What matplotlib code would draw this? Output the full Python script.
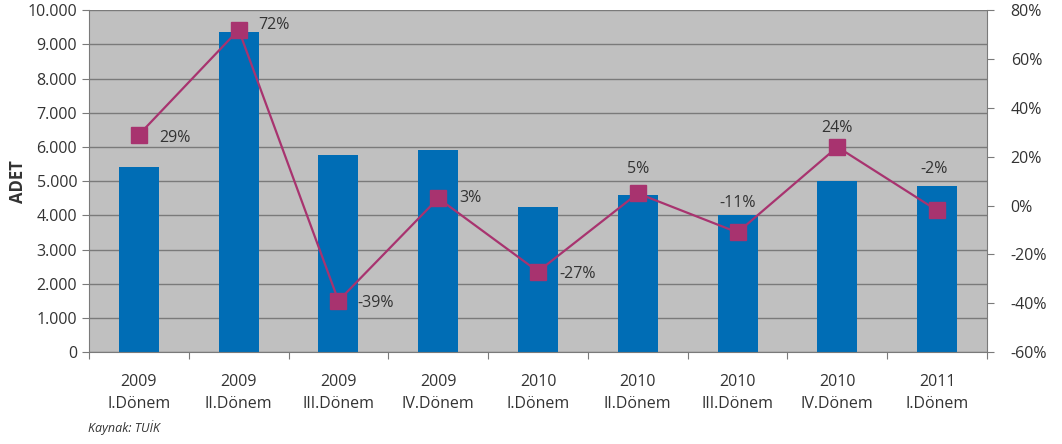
import matplotlib
matplotlib.use("Agg")
import matplotlib.pyplot as plt
import numpy as np
from matplotlib.ticker import FuncFormatter, FixedLocator

plt.rcParams["font.family"] = ["Open Sans", "DejaVu Sans"]

# data
categories = ["2009\nI.Dönem", "2009\nII.Dönem", "2009\nIII.Dönem", "2009\nIV.Dönem",
              "2010\nI.Dönem", "2010\nII.Dönem", "2010\nIII.Dönem", "2010\nIV.Dönem",
              "2011\nI.Dönem"]
adet = [5400, 9350, 5760, 5900, 4240, 4590, 4010, 5000, 4850]
change_pct = [29, 72, -39, 3, -27, 5, -11, 24, -2]

# label placement relative to each marker, in pixels (dx, dy; dy up)
label_offsets = [(20, -3), (20, 5), (19, -2), (21, 0), (21, -2),
                 (0, 24), (0, 29), (0, 19), (-3, 41)]

BAR_COLOR = "#006db5"
LINE_COLOR = "#a8336f"
BG = "#c0c0c0"
GRID = "#7a7a7a"
TEXT = "#333333"
PX = 72 / 100  # points per pixel at dpi 100

fig = plt.figure(figsize=(10.62, 4.44), dpi=100)
ax = fig.add_axes([0.0838, 0.207, 0.8456, 0.770])
ax.set_facecolor(BG)

x = np.arange(len(categories))
ax.bar(x, adet, width=0.4, color=BAR_COLOR, zorder=2)
ax.set_xlim(-0.5, len(categories) - 0.5)
ax.set_ylim(0, 10000)
ax.set_yticks(np.arange(0, 10001, 1000))
ax.yaxis.set_major_formatter(FuncFormatter(lambda v, p: f"{int(v):,}".replace(",", ".")))
ax.grid(axis="y", color=GRID, linewidth=1.0, zorder=1)
ax.set_axisbelow(True)

# category boundaries as ticks, labels at centres
ax.xaxis.set_major_locator(FixedLocator(np.arange(-0.5, len(categories), 1.0)))
ax.xaxis.set_major_formatter(FuncFormatter(lambda v, p: ""))
ax.xaxis.set_minor_locator(FixedLocator(x))
ax.set_xticklabels(categories, minor=True)
ax.tick_params(axis="x", which="minor", length=0, pad=16, labelsize=11.5, labelcolor=TEXT)
ax.tick_params(axis="x", which="major", length=5, color=GRID, direction="out")
ax.tick_params(axis="y", length=5, color=GRID, labelsize=11.5, labelcolor=TEXT)
for ln in ax.get_xticklabels(minor=True):
    ln.set_linespacing(1.5)

ax.set_ylabel("ADET", fontsize=12, fontweight="bold", color=TEXT, labelpad=0)

for s in ["top", "right"]:
    ax.spines[s].set_visible(False)
for s in ["left", "bottom"]:
    ax.spines[s].set_color(GRID)

ax2 = ax.twinx()
ax2.plot(x, change_pct, color=LINE_COLOR, linewidth=1.6, marker="s", markersize=11,
         markerfacecolor=LINE_COLOR, markeredgecolor=LINE_COLOR, zorder=3)
ax2.set_ylim(-60, 80)
ax2.set_yticks(np.arange(-60, 81, 20))
ax2.yaxis.set_major_formatter(FuncFormatter(lambda v, p: f"{int(v)}%"))
ax2.tick_params(axis="y", length=5, color=GRID, labelsize=11.5, labelcolor=TEXT, pad=12)
for s in ["top", "left", "bottom"]:
    ax2.spines[s].set_visible(False)
ax2.spines["right"].set_color(GRID)

for xi, v, (dx, dy) in zip(x, change_pct, label_offsets):
    ha = "left" if dx > 5 else "center"
    ax2.annotate(f"{v}%", (xi, v), xytext=(dx * PX, dy * PX), textcoords="offset points",
                 ha=ha, va="center", fontsize=11.5, color=TEXT)

fig.text(0.083, 0.026, "Kaynak: TUİK", fontsize=9, style="italic", color=TEXT)

fig.savefig("out.png", dpi=100, facecolor="white")
